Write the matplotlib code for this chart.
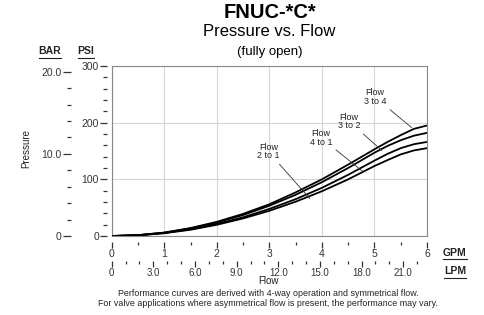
import numpy as np
import matplotlib.pyplot as plt
from matplotlib.ticker import FixedLocator, FixedFormatter

plt.rcParams['font.family'] = ['Liberation Sans', 'DejaVu Sans']

# curve data (GPM vs PSI)
gpm = [0, 0.5, 1, 1.5, 2, 2.5, 3, 3.5, 4, 4.5, 5, 5.25, 5.5, 5.75, 6]
flow_3_to_4 = [0, 1.5, 6, 14, 25, 39, 56, 77, 100, 126, 153, 166, 178, 189, 195]
flow_3_to_2 = [0, 1.5, 5.9, 13.4, 23.8, 37, 53.4, 72.7, 95, 120, 147, 159, 169, 177, 182]
flow_4_to_1 = [0, 1.3, 5.3, 12, 21.3, 33, 47.8, 65, 85, 108, 133, 145, 155, 162, 166]
flow_2_to_1 = [0, 1.2, 4.9, 11, 19.8, 31, 44.5, 60.5, 79, 100, 123.5, 134, 144, 151, 155]

curve_labels = ['Flow\n3 to 4', 'Flow\n3 to 2', 'Flow\n4 to 1', 'Flow\n2 to 1']
label_xy = [(5.01, 245), (4.52, 202), (3.98, 173.5), (2.98, 149)]
tip_xy = [(5.71, 191), (5.14, 151), (4.79, 113), (3.77, 66)]

psi_ticks = [0, 100, 200, 300]
bar_ticks = [0, 10, 20]
bar_labels = ['0', '10.0', '20.0']
gpm_ticks = [0, 1, 2, 3, 4, 5, 6]
lpm_ticks = [0, 3, 6, 9, 12, 15, 18, 21]
lpm_labels = ['0', '3.0', '6.0', '9.0', '12.0', '15.0', '18.0', '21.0']
PSI_PER_BAR = 14.5
LPM_PER_GPM = 3.785

W, H = 485, 315
fig = plt.figure(figsize=(W / 100, H / 100), dpi=100)
ax = fig.add_axes([111.7 / W, 1 - 236 / H, 315.3 / W, 170 / H])

tick_col = '#333333'
for y in [flow_3_to_4, flow_3_to_2, flow_4_to_1, flow_2_to_1]:
    ax.plot(gpm, y, color='black', lw=1.3, solid_capstyle='butt', zorder=3)

ax.set_xlim(0, 6)
ax.set_ylim(0, 300)
ax.set_xticks(gpm_ticks)
ax.set_yticks(psi_ticks)
ax.grid(True, color='#d6d6d6', lw=0.8)
ax.tick_params(length=0, labelbottom=False, labelleft=False)
for s in ax.spines.values():
    s.set_color('#888888')
    s.set_linewidth(0.8)

for txt, xy, tip in zip(curve_labels, label_xy, tip_xy):
    ax.annotate(txt, xy=tip, xytext=xy, ha='center', va='center',
                fontsize=6.5, linespacing=0.95, color='#222222',
                arrowprops=dict(arrowstyle='-', lw=0.6, color='#333333',
                                shrinkA=1, shrinkB=0), zorder=4)

# PSI axis
psi = ax.secondary_yaxis(-0.0149)
psi.spines['left'].set_visible(False)
psi.set_yticks(psi_ticks)
psi.yaxis.set_minor_locator(FixedLocator([v for v in range(20, 300, 20) if v % 100]))
psi.tick_params(which='major', length=5, width=0.9, pad=0.8, labelsize=7.5, color=tick_col, labelcolor=tick_col)
psi.tick_params(which='minor', length=2.6, width=0.9, color=tick_col)

# BAR axis
bar = ax.secondary_yaxis(-0.129, functions=(lambda p: p / PSI_PER_BAR, lambda b: b * PSI_PER_BAR))
bar.spines['left'].set_visible(False)
bar.yaxis.set_major_locator(FixedLocator(bar_ticks))
bar.yaxis.set_major_formatter(FixedFormatter(bar_labels))
bar.yaxis.set_minor_locator(FixedLocator([2, 4, 6, 8, 12, 14, 16, 18]))
bar.tick_params(which='major', length=5.8, width=0.9, pad=0.8, labelsize=7.5, color=tick_col, labelcolor=tick_col)
bar.tick_params(which='minor', length=2.8, width=0.9, color=tick_col)

# GPM axis
gx = ax.secondary_xaxis(-0.0324)
gx.spines['bottom'].set_visible(False)
gx.set_xticks(gpm_ticks)
gx.xaxis.set_minor_locator(FixedLocator(np.arange(0.5, 6, 1.0)))
gx.tick_params(which='major', length=4.3, width=0.9, pad=1.2, labelsize=7.5, color=tick_col, labelcolor=tick_col)
gx.tick_params(which='minor', length=2.0, width=0.9, color=tick_col)

# LPM axis
lx = ax.secondary_xaxis(-0.145, functions=(lambda g: g * LPM_PER_GPM, lambda l: l / LPM_PER_GPM))
lx.spines['bottom'].set_visible(False)
lx.xaxis.set_major_locator(FixedLocator(lpm_ticks))
lx.xaxis.set_major_formatter(FixedFormatter(lpm_labels))
lx.xaxis.set_minor_locator(FixedLocator([v for v in range(1, 23) if v % 3]))
lx.tick_params(which='major', length=4.3, width=0.9, pad=1.2, labelsize=7, color=tick_col, labelcolor=tick_col)
lx.tick_params(which='minor', length=2.0, width=0.9, color=tick_col)


def ftext(x, y, s, **kw):
    return fig.text(x / W, 1 - y / H, s, ha='center', va='center', **kw)


ftext(270, 13, 'FNUC-*C*', fontsize=14.5, fontweight='bold')
ftext(269.5, 31, 'Pressure vs. Flow', fontsize=12)
ftext(270, 52.5, '(fully open)', fontsize=9.5)
ftext(26.7, 149, 'Pressure', fontsize=7, rotation=90, color='#222222')
ftext(268.5, 281.5, 'Flow', fontsize=7, color='#222222')
ftext(268.5, 293.3, 'Performance curves are derived with 4-way operation and symmetrical flow.',
      fontsize=6.4, color='#222222')
ftext(268.5, 304, 'For valve applications where asymmetrical flow is present, the performance may vary.',
      fontsize=6.4, color='#222222')

# underlined unit labels
units = [('BAR', 50, 51.5), ('PSI', 86, 51.5), ('GPM', 455, 253), ('LPM', 455, 271.5)]
unit_texts = [ftext(x, y, s, fontsize=7.5, fontweight='bold', color='#222222') for s, x, y in units]
fig.canvas.draw()
r = fig.canvas.get_renderer()
for t in unit_texts:
    bb = t.get_window_extent(r).transformed(fig.transFigure.inverted())
    fig.add_artist(plt.Line2D([bb.x0, bb.x1], [bb.y0 - 0.004, bb.y0 - 0.004],
                              transform=fig.transFigure, color='#222222', lw=0.8))

fig.savefig('out.png', dpi=100, facecolor='white')
